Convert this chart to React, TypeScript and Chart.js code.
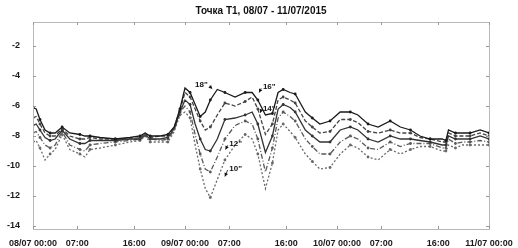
import { useEffect, useRef } from "react";
import { Chart, registerables } from "chart.js";

Chart.register(...registerables);

const chartTitle = "Точка T1, 08/07 - 11/07/2015";

// hours since 08/07 00:00
const hours = [
  0, 0.5, 1.1, 1.9, 2.7, 3.5, 4.6, 5.8, 7.4, 8.2,
  9.0, 10.6, 13.0, 15.3, 16.9, 17.7, 18.5, 20.1, 21.3, 22.3,
  23.2, 24.0, 24.8, 25.6, 26.4, 27.2, 28.0, 29.1, 30.3, 31.9,
  33.5, 34.6, 35.5, 36.7, 37.8, 38.7, 39.5, 40.6, 41.4, 43.0,
  44.1, 45.3, 46.9, 48.5, 50.1, 51.3, 52.9, 54.5, 56.4, 58.0,
  59.6, 61.1, 62.7, 64.6, 65.2, 65.6, 66.7, 67.8, 69.0, 70.6, 72.0,
];

const depth18 = [
  -6.1, -6.2, -6.9, -7.6, -7.8, -7.8, -7.4, -7.8, -7.9, -8.0,
  -8.0, -8.1, -8.2, -8.1, -8.0, -7.8, -8.0, -8.0, -7.9, -7.4,
  -6.2, -4.8, -5.1, -5.9, -6.7, -6.4, -5.6, -4.9, -5.1, -5.4,
  -5.1, -5.1, -5.6, -6.6, -6.5, -5.1, -4.9, -5.1, -5.2, -6.4,
  -6.8, -7.2, -7.0, -6.4, -6.4, -6.6, -7.2, -7.4, -7.0, -7.4,
  -7.6, -8.0, -8.2, -8.2, -8.3, -7.6, -7.8, -7.8, -7.8, -7.6, -7.8,
];

const depth16 = [
  -6.8, -6.7, -7.2, -7.8, -8.0, -8.0, -7.5, -8.0, -8.2, -8.2,
  -8.1, -8.2, -8.2, -8.2, -8.1, -7.8, -8.1, -8.0, -8.0, -7.4,
  -6.3, -5.1, -5.4, -6.2, -7.0, -7.6, -7.4, -6.6, -5.8, -6.0,
  -5.7, -5.4, -6.2, -7.9, -7.2, -5.6, -5.4, -5.6, -5.8, -7.0,
  -7.4, -7.8, -7.7, -6.9, -6.9, -7.1, -7.7, -7.8, -7.6, -7.8,
  -7.8, -8.1, -8.2, -8.4, -8.4, -7.8, -8.0, -8.0, -8.0, -7.8, -8.0,
];

const depth14 = [
  -7.3, -7.2, -7.6, -8.1, -8.3, -8.2, -7.6, -8.2, -8.5, -8.5,
  -8.3, -8.3, -8.3, -8.2, -8.2, -7.9, -8.2, -8.2, -8.1, -7.5,
  -6.4, -5.6, -5.9, -7.2, -8.2, -8.9, -9.0, -8.2, -6.9, -6.8,
  -6.6, -6.4, -7.2, -9.1, -8.0, -6.2, -5.9, -6.1, -6.4, -7.6,
  -8.0, -8.4, -8.4, -7.6, -7.4, -7.6, -8.2, -8.4, -8.0, -8.2,
  -8.2, -8.3, -8.4, -8.6, -8.6, -8.0, -8.2, -8.2, -8.2, -8.0, -8.2,
];

const depth12 = [
  -7.8, -7.7, -8.1, -8.6, -8.8, -8.6, -7.7, -8.6, -8.9, -9.0,
  -8.6, -8.5, -8.4, -8.3, -8.2, -8.0, -8.2, -8.3, -8.2, -7.6,
  -6.4, -6.0, -6.4, -7.9, -9.2, -10.2, -10.4, -9.4, -8.2, -7.3,
  -7.0, -7.2, -8.2, -10.4, -8.8, -6.8, -6.4, -6.7, -7.0, -8.2,
  -8.7, -9.2, -9.2, -8.4, -8.0, -8.2, -8.8, -8.9, -8.4, -8.7,
  -8.5, -8.5, -8.5, -8.8, -8.8, -8.2, -8.5, -8.4, -8.4, -8.3, -8.4,
];

const depth10 = [
  -8.4, -8.3, -8.8, -9.6, -9.2, -8.9, -7.9, -8.9, -9.2, -9.4,
  -8.9, -8.8, -8.6, -8.4, -8.3, -8.0, -8.4, -8.4, -8.4, -7.7,
  -6.6, -6.4, -6.8, -8.6, -10.2, -11.5, -12.1, -10.9, -9.6, -8.6,
  -7.9, -8.2, -9.2, -11.5, -9.8, -7.6, -7.2, -7.7, -8.1, -9.2,
  -9.7, -10.2, -10.1, -9.2, -8.6, -8.8, -9.4, -9.6, -8.9, -9.2,
  -8.9, -8.7, -8.7, -9.0, -9.0, -8.6, -8.8, -8.6, -8.6, -8.6, -8.6,
];

const seriesNames = ['18"', '16"', '14"', '12"', '10"'];
const seriesValues = [depth18, depth16, depth14, depth12, depth10];
const seriesColors = ["#1a1a1a", "#444444", "#333333", "#5a5a5a", "#6a6a6a"];
const seriesDashes = [[], [4, 2], [], [5, 2, 1, 2], [2, 2]];

const xTickHours = [0, 7, 16, 24, 31, 40, 48, 55, 64, 72];
const xTickLabels = [
  "08/07 00:00", "07:00", "16:00", "09/07 00:00", "07:00",
  "16:00", "10/07 00:00", "07:00", "16:00", "11/07 00:00",
];
const yTicks = [-14, -12, -10, -8, -6, -4, -2];

// label text position (hour, value), arrow tip (hour, value)
const labelNames = ['18"', '16"', '14"', '12"', '10"'];
const labelPos = [
  [26.6, -4.6, 28.3, -4.85],
  [37.3, -4.75, 35.7, -5.1],
  [37.3, -6.2, 35.9, -6.45],
  [32.0, -8.55, 30.4, -8.9],
  [32.0, -10.2, 30.3, -10.7],
];

const FONT = "'Liberation Sans', Arial, sans-serif";

export default function App() {
  const ref = useRef<HTMLCanvasElement | null>(null);

  useEffect(() => {
    document.body.style.margin = "0";
    const canvas = ref.current;
    if (!canvas) return;

    const framePlugin = {
      id: "frame",
      afterDatasetsDraw(chart: any) {
        const { ctx, chartArea: a, scales } = chart;
        const xs = scales.x;
        const ys = scales.y;
        ctx.save();
        ctx.strokeStyle = "#b8b8b8";
        ctx.lineWidth = 1;
        ctx.strokeRect(a.left + 0.5, a.top + 0.5, a.right - a.left, a.bottom - a.top);
        ctx.strokeStyle = "#999";
        ctx.beginPath();
        for (const v of yTicks) {
          const y = Math.round(ys.getPixelForValue(v)) + 0.5;
          ctx.moveTo(a.left, y);
          ctx.lineTo(a.left + 3, y);
          ctx.moveTo(a.right, y);
          ctx.lineTo(a.right - 3, y);
        }
        for (const h of xTickHours) {
          const x = Math.round(xs.getPixelForValue(h)) + 0.5;
          ctx.moveTo(x, a.bottom);
          ctx.lineTo(x, a.bottom - 3);
          ctx.moveTo(x, a.top);
          ctx.lineTo(x, a.top + 3);
        }
        ctx.stroke();

        // depth labels with arrows
        ctx.fillStyle = "#111";
        ctx.strokeStyle = "#111";
        ctx.font = `bold 8px ${FONT}`;
        ctx.textAlign = "center";
        ctx.textBaseline = "middle";
        labelPos.forEach((p, i) => {
          const tx = xs.getPixelForValue(p[0]);
          const ty = ys.getPixelForValue(p[1]);
          const ax = xs.getPixelForValue(p[2]);
          const ay = ys.getPixelForValue(p[3]);
          ctx.fillText(labelNames[i], tx, ty);
          const dir = ax > tx ? 1 : -1;
          const sx = tx + dir * 8;
          ctx.beginPath();
          ctx.moveTo(sx, ty + 1);
          ctx.lineTo(ax, ay);
          ctx.lineWidth = 0.8;
          ctx.stroke();
          const ang = Math.atan2(ay - (ty + 1), ax - sx);
          ctx.beginPath();
          ctx.moveTo(ax, ay);
          ctx.lineTo(ax - 4 * Math.cos(ang - 0.5), ay - 4 * Math.sin(ang - 0.5));
          ctx.lineTo(ax - 4 * Math.cos(ang + 0.5), ay - 4 * Math.sin(ang + 0.5));
          ctx.closePath();
          ctx.fill();
        });

        // title
        ctx.font = `bold 10px ${FONT}`;
        ctx.fillStyle = "#111";
        ctx.textAlign = "center";
        ctx.textBaseline = "middle";
        ctx.fillText(chartTitle, (a.left + a.right) / 2, 11);
        ctx.restore();
      },
    };

    const chart = new Chart(canvas, {
      type: "line",
      data: {
        datasets: seriesValues.map((vals, i) => ({
          label: seriesNames[i],
          data: hours.map((h, j) => ({ x: h, y: vals[j] })),
          borderColor: seriesColors[i],
          backgroundColor: seriesColors[i],
          borderWidth: 1.3,
          borderDash: seriesDashes[i],
          pointRadius: (c: any) => (c.dataIndex % 2 === 0 ? 1.4 : 0),
          pointBorderWidth: 0,
          tension: 0,
          fill: false,
        })),
      },
      plugins: [framePlugin],
      options: {
        responsive: false,
        animation: false,
        events: [],
        layout: { padding: { top: 22, right: 29, left: 0, bottom: 0 } },
        plugins: {
          legend: { display: false },
          title: { display: false },
          tooltip: { enabled: false },
        },
        scales: {
          x: {
            type: "linear",
            min: 0,
            max: 72,
            afterBuildTicks: (axis: any) => {
              axis.ticks = xTickHours.map((v) => ({ value: v }));
            },
            afterFit: (axis: any) => {
              axis.height = 19;
            },
            grid: { display: false },
            border: { display: false },
            ticks: {
              autoSkip: false,
              maxRotation: 0,
              minRotation: 0,
              padding: 1,
              color: "#1a1a1a",
              font: { family: FONT, size: 9, weight: "bold" },
              callback: (_v: any, idx: number) => xTickLabels[idx],
            },
          },
          y: {
            type: "linear",
            min: -14.2,
            max: -0.4,
            afterBuildTicks: (axis: any) => {
              axis.ticks = yTicks.map((v) => ({ value: v }));
            },
            afterFit: (axis: any) => {
              axis.width = 33;
            },
            grid: { display: false },
            border: { display: false },
            ticks: {
              padding: 5,
              color: "#1a1a1a",
              font: { family: FONT, size: 9, weight: "bold" },
            },
          },
        },
      },
    });

    return () => {
      chart.destroy();
    };
  }, []);

  return (
    <div style={{ width: 518, height: 248, background: "#fff" }}>
      <canvas ref={ref} width={518} height={248} />
    </div>
  );
}
